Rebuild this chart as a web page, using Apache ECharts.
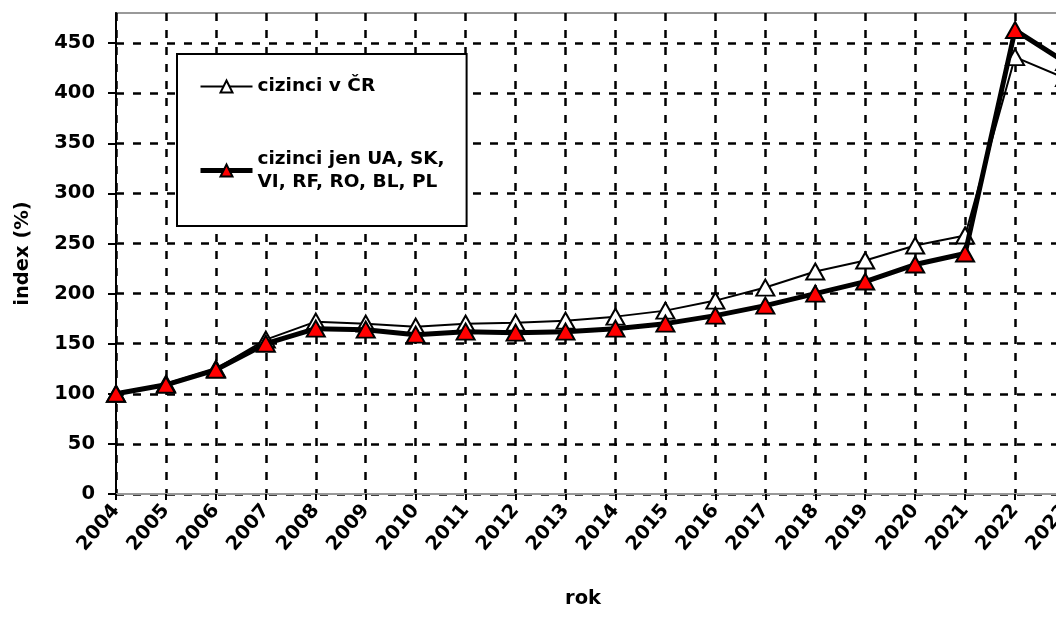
<!DOCTYPE html>
<html>
<head>
<meta charset="utf-8">
<script src="https://cdn.jsdelivr.net/npm/echarts@6/dist/echarts.min.js"></script>
<style>html,body{margin:0;padding:0;background:#fff}#c{width:1056px;height:623px}</style>
</head>
<body>
<div id="c"></div>
<script>
var years = ['2004','2005','2006','2007','2008','2009','2010','2011','2012','2013','2014','2015','2016','2017','2018','2019','2020','2021','2022','2023'];
var cizinciCR = [100, 110, 125, 154, 172, 170, 167, 170, 171, 173, 177, 183, 193, 206, 222, 233, 248, 258, 436, 415];
var cizinciVybrane = [100, 109, 124, 150, 165, 164, 159, 162, 161, 162, 165, 170, 178, 188, 200, 212, 229, 240, 463, 431];
var yTicks = [0, 50, 100, 150, 200, 250, 300, 350, 400, 450];
var nameCR = 'cizinci v ČR';
var nameVybrane = 'cizinci jen UA, SK,\nVI, RF, RO, BL, PL';

var font = 'DejaVu Sans';
var dash = [8, 9];
var gridColors = yTicks.map(function(){return '#000';}).concat(['rgba(0,0,0,0)']);

var chart = echarts.init(document.getElementById('c'));
chart.setOption({
  animation: false,
  backgroundColor: '#fff',
  grid: {left: 116, top: 13, width: 949, height: 481, show: true, borderColor: '#999', borderWidth: 2,
         containLabel: false, outerBoundsMode: 'none'},
  legend: {
    orient: 'vertical', left: 177, top: 54,
    padding: [21, 22, 21, 21],
    itemGap: 38, itemWidth: 52, itemHeight: 15,
    backgroundColor: '#fff', borderColor: '#000', borderWidth: 2,
    selectedMode: false,
    textStyle: {fontFamily: font, fontWeight: 'bold', fontSize: 18.5, color: '#000', lineHeight: 23},
    data: [
      {name: nameCR, lineStyle: {width: 2, color: '#000'}},
      {name: nameVybrane, lineStyle: {width: 5, color: '#000'}, textStyle: {padding: [23, 0, 0, 0]}}
    ]
  },
  xAxis: {
    type: 'category', data: years, boundaryGap: false,
    name: 'rok', nameLocation: 'middle', nameGap: 95,
    nameTextStyle: {fontFamily: font, fontWeight: 'bold', fontSize: 19.5, color: '#000', padding: [0, 15, 0, 0]},
    axisLine: {lineStyle: {color: '#999', width: 2}},
    axisTick: {show: true, alignWithLabel: true, length: 6, lineStyle: {color: '#000', width: 2}},
    axisLabel: {rotate: 50, margin: 13, fontFamily: font, fontWeight: 'bold', fontSize: 19.5, color: '#000', interval: 0},
    splitLine: {show: true, lineStyle: {color: '#000', width: 2.5, type: dash}}
  },
  yAxis: {
    type: 'value', min: 0, max: 480, interval: 50,
    name: 'index (%)', nameLocation: 'middle', nameGap: 83,
    nameTextStyle: {fontFamily: font, fontWeight: 'bold', fontSize: 19.5, color: '#000'},
    axisLine: {show: true, lineStyle: {color: '#000', width: 2}},
    axisTick: {show: true, length: 8, lineStyle: {color: '#000', width: 2}, customValues: yTicks},
    axisLabel: {margin: 21, fontFamily: font, fontWeight: 'bold', fontSize: 19.5, color: '#000', customValues: yTicks},
    splitLine: {show: true, lineStyle: {color: gridColors, width: 2.5, type: dash}}
  },
  series: [
    {
      name: nameCR, type: 'line', data: cizinciCR,
      symbol: 'triangle', symbolSize: [18, 16],
      lineStyle: {color: '#000', width: 2},
      itemStyle: {color: '#fff', borderColor: '#000', borderWidth: 2},
      z: 3
    },
    {
      name: nameVybrane, type: 'line', data: cizinciVybrane,
      symbol: 'triangle', symbolSize: [18, 16],
      lineStyle: {color: '#000', width: 5},
      itemStyle: {color: '#ff0000', borderColor: '#000', borderWidth: 2},
      z: 4
    }
  ]
});
</script>
</body>
</html>
